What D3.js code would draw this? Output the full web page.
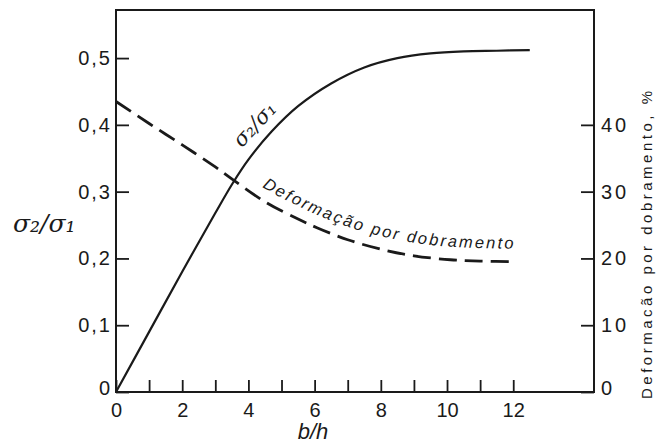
<!DOCTYPE html>
<html>
<head>
<meta charset="utf-8">
<script src="https://cdn.jsdelivr.net/npm/d3@7"></script>
<style>
  html, body { margin: 0; padding: 0; background: #fff; }
  svg { display: block; }
  text { fill: #1a1a1a; }
</style>
</head>
<body>
<div id="chart"></div>
<script>
// ---- Data ----
const xTicks = [0,1,2,3,4,5,6,7,8,9,10,11,12];
const xTickLabels = ["0","","2","","4","","6","","8","","10","","12"];
const yLeftTicks = [0,0.1,0.2,0.3,0.4,0.5];
const yLeftTickLabels = ["0","0,1","0,2","0,3","0,4","0,5"];
const yRightTicks = [0,10,20,30,40];
const yRightTickLabels = ["0","10","20","30","40"];

// sigma2/sigma1 (solid curve)
const ratioX = [0, 1, 2, 3, 3.53, 4, 4.7, 5.5, 6.5, 7.5, 8.5, 9.5, 10.5, 11.5, 12.5];
const ratioY = [0, 0.09, 0.18, 0.268, 0.313, 0.348, 0.39, 0.428, 0.462, 0.486, 0.500, 0.507, 0.510, 0.511, 0.512];

// Deformação por dobramento, % (dashed curve)
const deformX = [0, 1, 2, 3, 3.53, 4.56, 5.5, 6.07, 7, 8.07, 9, 10.1, 11, 12.1];
const deformY = [43.5, 40.2, 37.0, 33.7, 31.8, 28.3, 25.9, 24.6, 22.8, 21.3, 20.4, 19.8, 19.6, 19.5];

const leftTitle = "σ₂/σ₁";
const xTitle = "b/h";
const rightTitle = "Deformacão por dobramento, %";
const curveLabelRatio = "σ₂/σ₁";
const curveLabelDeform = "Deformação por dobramento";

// ---- Layout ----
const W = 656, H = 445;
const L = 116, R = 594, T = 10, B = 392;

const svg = d3.select("#chart").append("svg").attr("width", W).attr("height", H);

const x = d3.scaleLinear().domain([0, 14.44]).range([L, R]);
const yL = d3.scaleLinear().domain([0, 0.572]).range([B, T]);
const yR = d3.scaleLinear().domain([0, 57.2]).range([B, T]);

const ink = "#1a1a1a";
const tickFont = "'Liberation Sans', Arial, sans-serif";
const serif = "'DejaVu Serif', 'Liberation Serif', serif";

// Frame
svg.append("rect").attr("x", L).attr("y", T).attr("width", R - L).attr("height", B - T)
  .attr("fill", "none").attr("stroke", ink).attr("stroke-width", 2);

// Bottom axis (ticks inside)
const gx = svg.append("g").attr("transform", `translate(0,${B})`)
  .call(d3.axisBottom(x).tickValues(xTicks).tickSizeInner(-12).tickSizeOuter(0).tickPadding(11)
    .tickFormat((d, i) => xTickLabels[i]));
// Left axis
const gl = svg.append("g").attr("transform", `translate(${L},0)`)
  .call(d3.axisLeft(yL).tickValues(yLeftTicks).tickSizeInner(-13).tickSizeOuter(0).tickPadding(4)
    .tickFormat((d, i) => yLeftTickLabels[i]));
// Right axis
const gr = svg.append("g").attr("transform", `translate(${R},0)`)
  .call(d3.axisRight(yR).tickValues(yRightTicks).tickSizeInner(-13).tickSizeOuter(0).tickPadding(7)
    .tickFormat((d, i) => yRightTickLabels[i]));

[gx, gl, gr].forEach(g => {
  g.select(".domain").remove();
  g.selectAll(".tick line").attr("stroke", ink).attr("stroke-width", 1.8);
  g.selectAll(".tick text").attr("fill", ink).style("font-family", tickFont).style("font-size", "20px");
});
gl.selectAll(".tick text").style("letter-spacing", "2px");
gr.selectAll(".tick text").style("letter-spacing", "3px");
gl.selectAll(".tick text").filter((d) => d === 0).attr("dy", "0.1em");
gr.selectAll(".tick text").filter((d) => d === 0).attr("dy", "0.1em");

// Curves
const ratioData = ratioX.map((v, i) => [v, ratioY[i]]);
const deformData = deformX.map((v, i) => [v, deformY[i]]);

const lineRatio = d3.line().x(d => x(d[0])).y(d => yL(d[1])).curve(d3.curveCatmullRom.alpha(0.5));
const lineDeform = d3.line().x(d => x(d[0])).y(d => yR(d[1])).curve(d3.curveCatmullRom.alpha(0.5));

svg.append("path").datum(ratioData).attr("d", lineRatio)
  .attr("fill", "none").attr("stroke", ink).attr("stroke-width", 2.2);
svg.append("path").datum(deformData).attr("d", lineDeform)
  .attr("fill", "none").attr("stroke", ink).attr("stroke-width", 2.8)
  .attr("stroke-dasharray", "18,8");

// Label path along the dashed curve (shifted up)
const labelPathData = deformData.filter(d => d[0] >= 3.5);
const lineDeformOffset = d3.line().x(d => x(d[0])).y(d => yR(d[1]) - 13).curve(d3.curveCatmullRom.alpha(0.5));
const lp = svg.append("defs").append("path").attr("id", "deformPath")
  .datum(labelPathData).attr("d", lineDeformOffset);
// find offset where the label should start (b/h ≈ 4.4) and end (≈ 12)
const node = lp.node();
const total = node.getTotalLength();
let startLen = 0;
for (let s = 0; s < total; s += 0.5) {
  if (node.getPointAtLength(s).x >= x(4.4)) { startLen = s; break; }
}
let endLen = total;
for (let s = 0; s < total; s += 0.5) {
  if (node.getPointAtLength(s).x >= x(12.0)) { endLen = s; break; }
}
svg.append("text")
  .style("font-family", tickFont).style("font-size", "16.5px").style("font-style", "italic")
  .append("textPath").attr("href", "#deformPath").attr("startOffset", startLen)
  .attr("textLength", endLen - startLen).attr("lengthAdjust", "spacing")
  .text(curveLabelDeform);

// sigma2/sigma1 label on curve
svg.append("text")
  .attr("transform", `translate(${x(3.8)},${yL(0.365)}) rotate(-47)`)
  .style("font-family", serif)
  .style("font-style", "italic").style("font-size", "21px")
  .text(curveLabelRatio);

// Left title
svg.append("text").attr("x", 13).attr("y", 232)
  .style("font-family", serif)
  .style("font-style", "italic").style("font-size", "25px")
  .text(leftTitle);

// X title b/h
svg.append("text").attr("x", 313).attr("y", 439).attr("text-anchor", "middle")
  .style("font-family", tickFont).style("font-style", "italic").style("font-size", "22px")
  .text(xTitle);

// Right title
svg.append("text")
  .attr("transform", `translate(652,${(90 + 400) / 2}) rotate(-90)`)
  .attr("text-anchor", "middle")
  .style("font-family", tickFont).style("font-size", "15px")
  .attr("textLength", 308).attr("lengthAdjust", "spacing")
  .text(rightTitle);
</script>
</body>
</html>
